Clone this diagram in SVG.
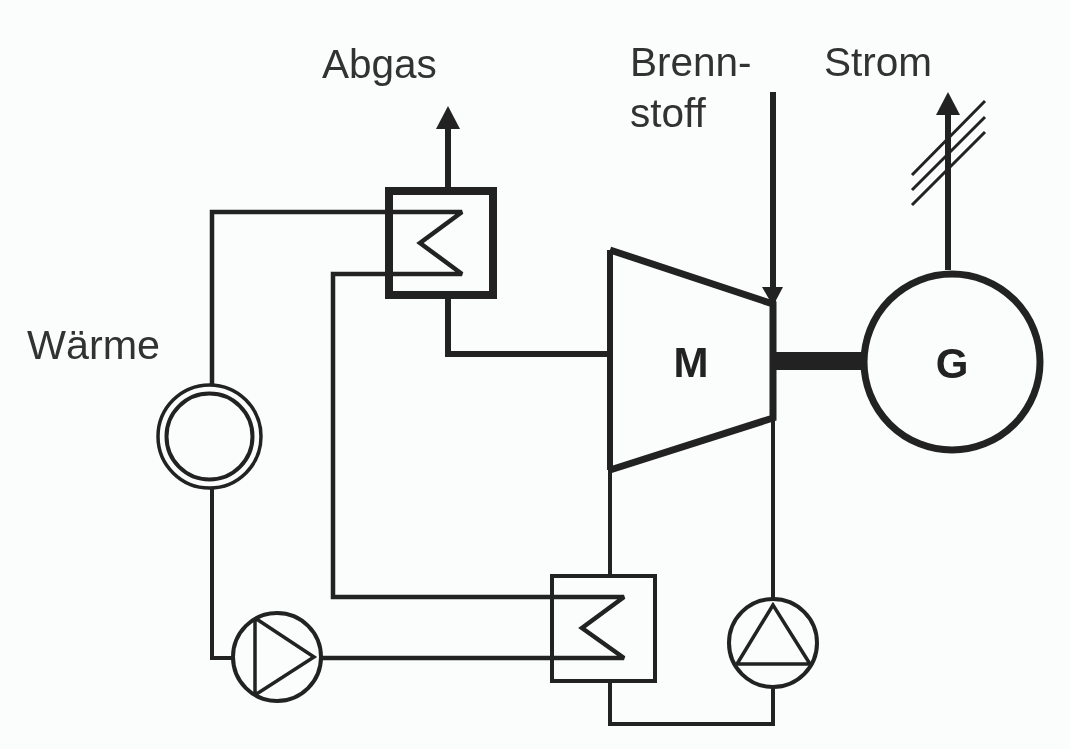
<svg xmlns="http://www.w3.org/2000/svg" width="1070" height="749" viewBox="0 0 1070 749">
<style>
.bg{fill:#fbfcfc}
.l{fill:none;stroke:#222;stroke-linejoin:miter;stroke-miterlimit:2;stroke-linecap:butt}
.m{fill:none;stroke:#222;stroke-linejoin:miter;stroke-linecap:butt}
.w{fill:none;stroke:#222}
.h{fill:#222}
.t{font-family:"Liberation Sans",Arial,sans-serif;font-size:40.5px;fill:#333}
.b{font-family:"Liberation Sans",Arial,sans-serif;font-size:42px;font-weight:bold;fill:#222;text-anchor:middle}
</style>
<defs><filter id="soft" filterUnits="userSpaceOnUse" x="0" y="0" width="1070" height="749"><feGaussianBlur stdDeviation="0.6"/></filter></defs>
<rect class="bg" width="1070" height="749"/>
<g filter="url(#soft)">
<g id="connectors">
<path class="l" stroke-width="4.500" d="M212 384V212H462L420 243L462 274H333V597H624L582 628L624 658H322"/>
<path class="m" stroke-width="4" d="M212 488V658H232"/>
<path class="m" stroke-width="6" d="M448 299V354H610"/>
<path class="m" stroke-width="6" d="M448 187V125"/>
<polygon class="h" points="448,106 460,129 436,129"/>
<path class="m" stroke-width="6" d="M773 92V304"/>
<polygon class="h" points="762,287 783,287 773,306"/>
<path class="m" stroke-width="4" d="M773 418V598M773 688V724H610V682M610 470V575"/>
<rect class="h" x="776" y="352" width="86" height="18"/>
<path class="m" stroke-width="6" d="M948 270V112"/>
<polygon class="h" points="948,92 960,115 936,115"/>
<path class="m" stroke-width="3" d="M912 175L985 101M912 190L985 117M912 205L985 132"/>
</g>
<g id="heat-exchanger-top">
<rect class="m" stroke-width="8" x="389" y="191" width="104" height="104"/>
</g>
<g id="motor">
<path class="m" stroke-width="6" d="M610 470V250"/>
<path class="m" stroke-width="7" d="M610 250L773 304V418L610 470"/>
<text class="b" x="691" y="377">M</text>
</g>
<g id="generator">
<circle class="w" stroke-width="7" cx="952" cy="362" r="88"/>
<text class="b" x="952" y="378">G</text>
</g>
<g id="heat-consumer">
<circle class="w" stroke-width="3.500" cx="209.500" cy="436.500" r="51.500"/>
<circle class="w" stroke-width="4" cx="209.500" cy="436.500" r="43"/>
</g>
<g id="pump-left">
<circle class="w" stroke-width="4" cx="277" cy="657" r="44"/>
<path class="l" stroke-width="3.500" d="M255 618V695L314 657Z"/>
</g>
<g id="heat-exchanger-bottom">
<rect class="m" stroke-width="4" x="552" y="576" width="103" height="105"/>
</g>
<g id="pump-right">
<circle class="w" stroke-width="4" cx="773" cy="643" r="44"/>
<path class="l" stroke-width="3.500" d="M773 605L737 664H810Z"/>
</g>
<g id="labels">
<text class="t" x="322" y="78">Abgas</text>
<text class="t" x="630" y="76">Brenn-</text>
<text class="t" x="630" y="127">stoff</text>
<text class="t" x="824" y="76">Strom</text>
<text class="t" x="27" y="359" textLength="133" lengthAdjust="spacingAndGlyphs">Wärme</text>
</g>
</g>
</svg>
